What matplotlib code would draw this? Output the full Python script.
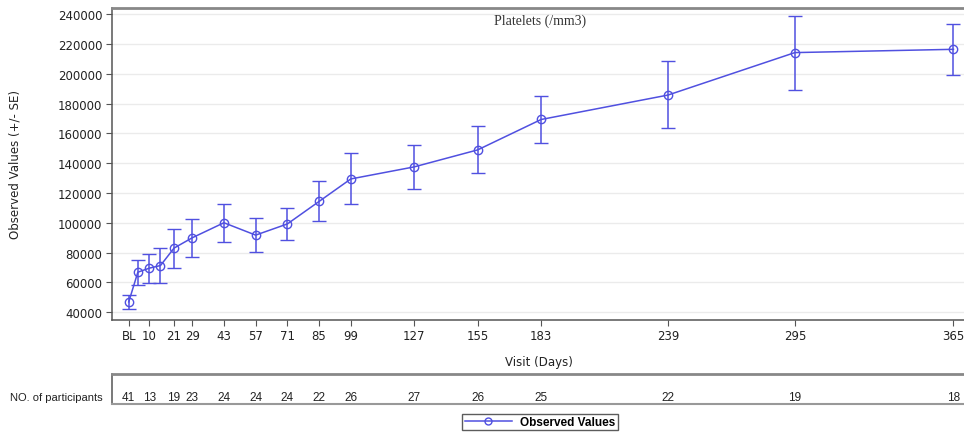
import matplotlib.pyplot as plt
from matplotlib.lines import Line2D

# Visit days (BL = day 1) and platelet means with +/- SE bounds
days = [1, 5, 10, 15, 21, 29, 43, 57, 71, 85, 99, 127, 155, 183, 239, 295, 365]
means = [47000, 66900, 69600, 71400, 83100, 90000, 100100, 91800, 99300,
         114400, 129500, 137600, 149000, 169400, 185800, 214300, 216500]
upper = [51600, 75400, 79400, 83100, 96000, 102800, 112700, 103000, 110000,
         128200, 146700, 152400, 165300, 185500, 208700, 239000, 233600]
lower = [42300, 58400, 59700, 59700, 69800, 77000, 87300, 80800, 88500,
         101200, 112900, 122500, 133300, 153300, 164000, 189100, 199500]

tick_days = [1, 10, 21, 29, 43, 57, 71, 85, 99, 127, 155, 183, 239, 295, 365]
tick_labels = ['BL', '10', '21', '29', '43', '57', '71', '85', '99',
               '127', '155', '183', '239', '295', '365']
n_participants = [41, 13, 19, 23, 24, 24, 24, 22, 26, 27, 26, 25, 22, 19, 18]

yticks = list(range(40000, 240001, 20000))

blue = '#5050E0'
frame = '#555555'
W, H = 964, 435

fig = plt.figure(figsize=(W / 100, H / 100), dpi=100)
ax = fig.add_axes([112 / W, (H - 320.7) / H, 853 / W, 311.7 / H])

yerr = [[m - lo for m, lo in zip(means, lower)],
        [up - m for m, up in zip(means, upper)]]
ax.errorbar(days, means, yerr=yerr, color=blue, lw=1.1, elinewidth=1.1,
            capsize=5, capthick=1.1, marker='o', markersize=6,
            markerfacecolor='none', markeredgecolor=blue, markeredgewidth=1.0,
            zorder=3)

ax.set_xlim(-6.4, 370.1)
ax.set_ylim(35030, 244230)
ax.set_yticks(yticks)
ax.set_yticklabels([str(v) for v in yticks], fontsize=8.5, color='#222222')
ax.set_xticks(tick_days)
ax.set_xticklabels(tick_labels, fontsize=8.5, color='#222222')
ax.tick_params(axis='both', length=4, width=0.8, color=frame, direction='out', pad=3)
ax.grid(axis='y', color='#EBEBEB', lw=1.0, zorder=0)
ax.set_axisbelow(True)
for side in ['left', 'bottom']:
    ax.spines[side].set_color(frame)
    ax.spines[side].set_linewidth(1.1)
ax.spines['top'].set_color('#888888')
ax.spines['top'].set_linewidth(2)
ax.spines['right'].set_visible(False)

ax.set_ylabel('Observed Values (+/- SE)', fontsize=8.5, color='#222222', labelpad=26)
ax.set_xlabel('Visit (Days)', fontsize=8.5, color='#222222', labelpad=9)
ax.text(0.502, 0.962, 'Platelets (/mm3)', transform=ax.transAxes, ha='center',
        va='center', fontsize=10, family='Liberation Serif', color='#333333')

# participant count row under the plot
tab = fig.add_axes([112 / W, (H - 405) / H, 853 / W, 30.5 / H])
tab.set_xlim(ax.get_xlim())
tab.set_ylim(0, 1)
tab.set_xticks([])
tab.set_yticks([])
tab.patch.set_alpha(0)
tab.spines['left'].set_color(frame)
tab.spines['left'].set_linewidth(1.1)
tab.spines['top'].set_color('#888888')
tab.spines['top'].set_linewidth(2)
tab.spines['bottom'].set_color('#999999')
tab.spines['bottom'].set_linewidth(1.5)
tab.spines['right'].set_visible(False)
for d, n in zip(tick_days, n_participants):
    tab.text(d, 0.24, str(n), ha='center', va='center', fontsize=8.5,
             family='Liberation Sans', color='#222222')
fig.text(103 / W, (H - 398) / H, 'NO. of participants', ha='right', va='center',
         fontsize=8, family='Liberation Sans', color='#222222')

handle = Line2D([], [], color=blue, lw=1.1, marker='o', markersize=5,
                markerfacecolor='none', markeredgecolor=blue)
leg = fig.legend([handle], ['Observed Values'], loc='center',
                 bbox_to_anchor=(540 / W, (H - 423) / H),
                 frameon=True, fancybox=False, edgecolor='#333333',
                 handlelength=4, borderpad=0.2, handletextpad=0.7,
                 prop={'family': 'Liberation Sans', 'weight': 'bold', 'size': 8.5})
leg.get_frame().set_linewidth(1.0)

fig.savefig('out.png', dpi=100)
